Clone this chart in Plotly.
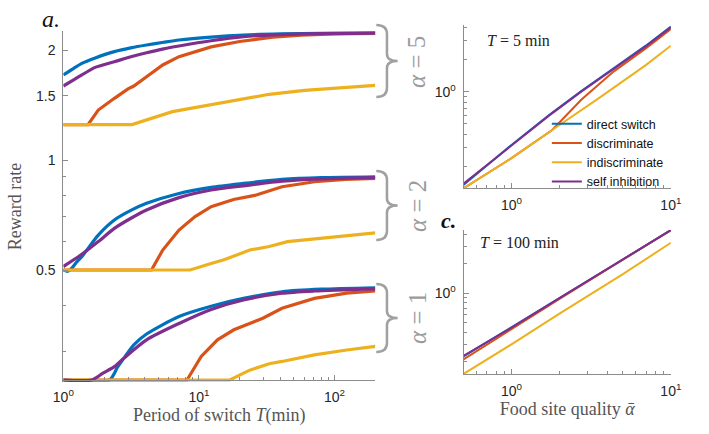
import math
import plotly.graph_objects as go

W, H = 709, 434

NAMES = ["direct switch", "discriminate", "indiscriminate", "self inhibition"]
COLORS = ["#0072BD", "#D95319", "#EDB120", "#7E2F8E"]

# ---- panel a: reward rate vs period of switch T (min) ----
# alpha = 5
t_a5_blue = [1, 1.2, 1.37, 1.7, 2.38, 3.2, 4.11, 5.5, 7.13, 12.3, 21.3, 40, 80, 200]
r_a5_blue = [1.709, 1.785, 1.839, 1.90, 1.98, 2.03, 2.064, 2.10, 2.13, 2.17, 2.198, 2.213, 2.222, 2.226]
t_a5_orange = [1, 1.52, 1.81, 2.0, 2.38, 3.0, 3.31, 4.11, 5.41, 7.13, 12.3, 20, 35, 57, 100, 200]
r_a5_orange = [1.25, 1.25, 1.37, 1.41, 1.475, 1.565, 1.594, 1.69, 1.82, 1.918, 2.04, 2.11, 2.17, 2.198, 2.215, 2.222]
t_a5_yellow = [1, 3.21, 6.38, 17.1, 33, 60, 99, 200]
r_a5_yellow = [1.25, 1.25, 1.356, 1.445, 1.513, 1.55, 1.571, 1.60]
t_a5_purple = [1, 1.2, 1.37, 1.7, 2.38, 3.2, 4.11, 5.5, 7.13, 12.3, 21.3, 40, 80, 200]
r_a5_purple = [1.594, 1.66, 1.709, 1.79, 1.858, 1.92, 1.966, 2.015, 2.051, 2.12, 2.175, 2.205, 2.218, 2.224]

# alpha = 2
t_a2_blue = [1, 1.08, 1.15, 1.25, 1.37, 1.81, 2.38, 3.2, 4.11, 7.13, 12.3, 21.3, 41, 80, 200]
r_a2_blue = [0.5, 0.496, 0.505, 0.525, 0.544, 0.623, 0.685, 0.73, 0.761, 0.81, 0.842, 0.863, 0.885, 0.895, 0.90]
t_a2_orange = [1, 4.47, 5.41, 7.13, 9.37, 12.3, 18, 25.8, 41, 71.3, 120, 200]
r_a2_orange = [0.5, 0.5, 0.567, 0.643, 0.70, 0.745, 0.78, 0.80, 0.845, 0.872, 0.885, 0.891]
t_a2_yellow = [1, 8.6, 12.3, 15.5, 23.7, 33, 45, 70, 120, 200]
r_a2_yellow = [0.5, 0.5, 0.521, 0.534, 0.567, 0.58, 0.598, 0.608, 0.62, 0.632]
t_a2_purple = [1, 1.37, 1.81, 2.38, 3.2, 4.11, 7.13, 12.3, 21.3, 41, 80, 200]
r_a2_purple = [0.511, 0.552, 0.598, 0.65, 0.695, 0.73, 0.789, 0.828, 0.85, 0.875, 0.888, 0.895]

# alpha = 1
t_a1_blue = [1, 2.19, 2.51, 2.8, 3.31, 4.11, 7.13, 12.3, 21.3, 41, 80, 200]
r_a1_blue = [0.25, 0.25, 0.271, 0.287, 0.312, 0.334, 0.373, 0.398, 0.418, 0.436, 0.443, 0.447]
t_a1_orange = [1, 8.17, 10.4, 13.7, 18.1, 23.7, 29.6, 41, 71, 123, 200]
r_a1_orange = [0.25, 0.25, 0.29, 0.322, 0.343, 0.357, 0.369, 0.393, 0.418, 0.432, 0.438]
t_a1_yellow = [1, 16.9, 23.7, 33, 41, 71, 123, 200]
r_a1_yellow = [0.25, 0.25, 0.266, 0.277, 0.281, 0.293, 0.302, 0.309]
t_a1_purple = [1, 1.62, 1.96, 2.38, 2.8, 4.11, 7.13, 12.3, 21.3, 41, 71, 200]
r_a1_purple = [0.25, 0.25, 0.261, 0.272, 0.287, 0.322, 0.357, 0.39, 0.414, 0.432, 0.438, 0.444]

# ---- panel b: T = 5 min, reward vs food site quality ----
q_t5 = [0.5, 1, 1.72, 2.74, 4.37, 6.96, 10]
r_t5_blue = [0.134, 0.318, 0.605, 1.015, 1.655, 2.69, 4.05]
r_t5_purple = [0.138, 0.313, 0.597, 1.0, 1.63, 2.65, 4.0]
q_t5_orange = [0.5, 1, 1.8, 2.74, 4.37, 6.96, 10]
r_t5_orange = [0.125, 0.239, 0.438, 0.84, 1.54, 2.54, 3.85]
q_t5_yellow = [0.5, 1, 1.8, 3.5, 6.96, 10]
r_t5_yellow = [0.125, 0.239, 0.438, 0.86, 1.77, 2.69]

# ---- panel c: T = 100 min ----
q_t100 = [0.5, 1, 2, 5, 10]
r_t100_blue = [0.226, 0.446, 0.895, 2.222, 4.45]
r_t100_orange = [0.21, 0.43, 0.878, 2.21, 4.43]
r_t100_yellow = [0.149, 0.30, 0.62, 1.57, 3.3]
r_t100_purple = [0.228, 0.444, 0.892, 2.22, 4.45]


def fx(p):
    return p / W


def fy(p):
    return 1 - p / H


fig = go.Figure()

left_curves = [
    (t_a5_blue, r_a5_blue, 0), (t_a5_orange, r_a5_orange, 1),
    (t_a5_yellow, r_a5_yellow, 2), (t_a5_purple, r_a5_purple, 3),
    (t_a2_blue, r_a2_blue, 0), (t_a2_orange, r_a2_orange, 1),
    (t_a2_yellow, r_a2_yellow, 2), (t_a2_purple, r_a2_purple, 3),
    (t_a1_blue, r_a1_blue, 0), (t_a1_orange, r_a1_orange, 1),
    (t_a1_yellow, r_a1_yellow, 2), (t_a1_purple, r_a1_purple, 3),
]
for t, r, k in left_curves:
    # the smooth strategies get a spline, the kinked ones stay linear
    shape = "spline" if k in (0, 3) else "linear"
    fig.add_trace(go.Scatter(x=t, y=r, mode="lines", showlegend=False,
                             line=dict(color=COLORS[k], width=3.2, shape=shape, smoothing=0.7),
                             xaxis="x", yaxis="y"))

t5_curves = [(q_t5, r_t5_blue), (q_t5_orange, r_t5_orange),
             (q_t5_yellow, r_t5_yellow), (q_t5, r_t5_purple)]
for k, (q, r) in enumerate(t5_curves):
    fig.add_trace(go.Scatter(x=q, y=r, mode="lines", name=NAMES[k],
                             line=dict(color=COLORS[k], width=2),
                             xaxis="x2", yaxis="y2"))

t100_curves = [r_t100_blue, r_t100_orange, r_t100_yellow, r_t100_purple]
for k, r in enumerate(t100_curves):
    fig.add_trace(go.Scatter(x=q_t100, y=r, mode="lines", showlegend=False,
                             line=dict(color=COLORS[k], width=2),
                             xaxis="x3", yaxis="y3"))

AX = dict(type="log", showgrid=False, zeroline=False, showline=True,
          linecolor="#8c8c8c", linewidth=1, ticks="inside", ticklen=5,
          tickcolor="#8c8c8c", tickfont=dict(family="Liberation Sans", size=14, color="#262626"))
SERIF = "Liberation Serif"

dec_minor = [2, 3, 4, 5, 6, 7, 8, 9, 20, 30, 40, 50, 60, 70, 80, 90, 200]
q_minor = [0.5, 0.6, 0.7, 0.8, 0.9, 2, 3, 4, 5, 6, 7, 8, 9]
r_minor = [0.2, 0.3, 0.4, 0.5, 0.6, 0.7, 0.8, 0.9, 2, 3, 4]
minor = dict(ticks="inside", ticklen=3, tickcolor="#8c8c8c", showgrid=False)

ybot = math.log10(0.25) - 2 / 365.4
fig.update_layout(
    width=W, height=H, margin=dict(l=0, r=0, t=0, b=0),
    paper_bgcolor="white", plot_bgcolor="white",
    xaxis=dict(AX, domain=[fx(54), fx(376)], range=[0, math.log10(200)],
               anchor="free", position=fy(380),
               tickvals=[1, 10, 100], ticktext=["10<sup>0</sup>", "10<sup>1</sup>", "10<sup>2</sup>"],
               minor=dict(minor, tickvals=dec_minor), ticklabelstandoff=4,
               title=dict(text="Period of switch <i>T</i>(min)", standoff=4,
                          font=dict(family=SERIF, size=18, color="#555"))),
    yaxis=dict(AX, domain=[fy(382), fy(31)], range=[ybot, ybot + 351 / 365.4], anchor="x",
               tickvals=[0.5, 1, 1.5, 2], ticktext=["0.5", "1", "1.5", "2"],
               minor=dict(minor, tickvals=[0.3, 0.4, 0.6, 0.7, 0.8, 0.9]), ticklabelstandoff=4,
               title=dict(text="Reward rate", standoff=9,
                          font=dict(family=SERIF, size=18, color="#555"))),
    xaxis2=dict(AX, domain=[fx(467), fx(681)], range=[math.log10(0.5), 1], anchor="y2",
                tickvals=[1, 10], ticktext=["10<sup>0</sup>", "10<sup>1</sup>"],
                minor=dict(minor, tickvals=q_minor), ticklabelstandoff=4),
    yaxis2=dict(AX, domain=[fy(188.3), fy(25)], range=[-0.903, 0.623], anchor="x2",
                tickvals=[1], ticktext=["10<sup>0</sup>"],
                minor=dict(minor, tickvals=r_minor), ticklabelstandoff=4),
    xaxis3=dict(AX, domain=[fx(467), fx(681)], range=[math.log10(0.5), 1], anchor="y3",
                tickvals=[1, 10], ticktext=["10<sup>0</sup>", "10<sup>1</sup>"],
                minor=dict(minor, tickvals=q_minor), ticklabelstandoff=4,
                title=dict(text="Food site quality <i>ᾱ</i>", standoff=2,
                           font=dict(family=SERIF, size=18, color="#555"))),
    yaxis3=dict(AX, domain=[fy(374), fy(230)], range=[-0.827, 0.649], anchor="x3",
                tickvals=[1], ticktext=["10<sup>0</sup>"],
                minor=dict(minor, tickvals=r_minor), ticklabelstandoff=4),
    legend=dict(x=fx(553), y=fy(109), xanchor="left", yanchor="top",
                bgcolor="rgba(0,0,0,0)", borderwidth=0, itemwidth=30,
                font=dict(family="Liberation Sans", size=12.5, color="#111")),
)

# panel letters and in-panel labels
notes = [
    ("<i>a.</i>", 41, 19, 24, "#111", 0),
    ("<i><b>c.</b></i>", 452, 221, 22, "#111", 0),
    ("<i>T</i> = 5 min", 524, 41, 16, "#222", 0),
    ("<i>T</i> = 100 min", 525, 243, 16, "#222", 0),
    ("<i>α</i> = 5", 419, 62, 25, "#9b9b9b", -90),
    ("<i>α</i> = 2", 419, 206, 25, "#9b9b9b", -90),
    ("<i>α</i> = 1", 419, 318, 25, "#9b9b9b", -90),
]
for text, x, y, size, color, ang in notes:
    fig.add_annotation(text=text, x=fx(x), y=fy(y), xref="paper", yref="paper",
                       showarrow=False, textangle=ang, xanchor="center", yanchor="middle",
                       font=dict(family=SERIF, size=size, color=color))

# curly braces grouping the alpha families
for y0, y1 in [(25, 97), (171, 240), (284, 352)]:
    x0, xm, x1 = 377, 388, 399
    ym = (y0 + y1) / 2
    pts = [
        ("M", x0, y0), ("Q", xm, y0), (None, xm, y0 + 9), ("L", xm, ym - 7),
        ("Q", xm, ym), (None, x1, ym), ("Q", xm, ym), (None, xm, ym + 7),
        ("L", xm, y1 - 9), ("Q", xm, y1), (None, x0, y1),
    ]
    path = ""
    for cmd, px, py in pts:
        path += (cmd if cmd else " ") + f"{fx(px):.5f},{fy(py):.5f}"
    fig.add_shape(type="path", path=path, xref="paper", yref="paper",
                  line=dict(color="#a0a0a0", width=2.5))

# page body has a default 8px margin; drop it so the figure sits at the window origin
fig.write_html("out.html", config={"displayModeBar": False},
               post_script="document.body.style.margin='0';")
